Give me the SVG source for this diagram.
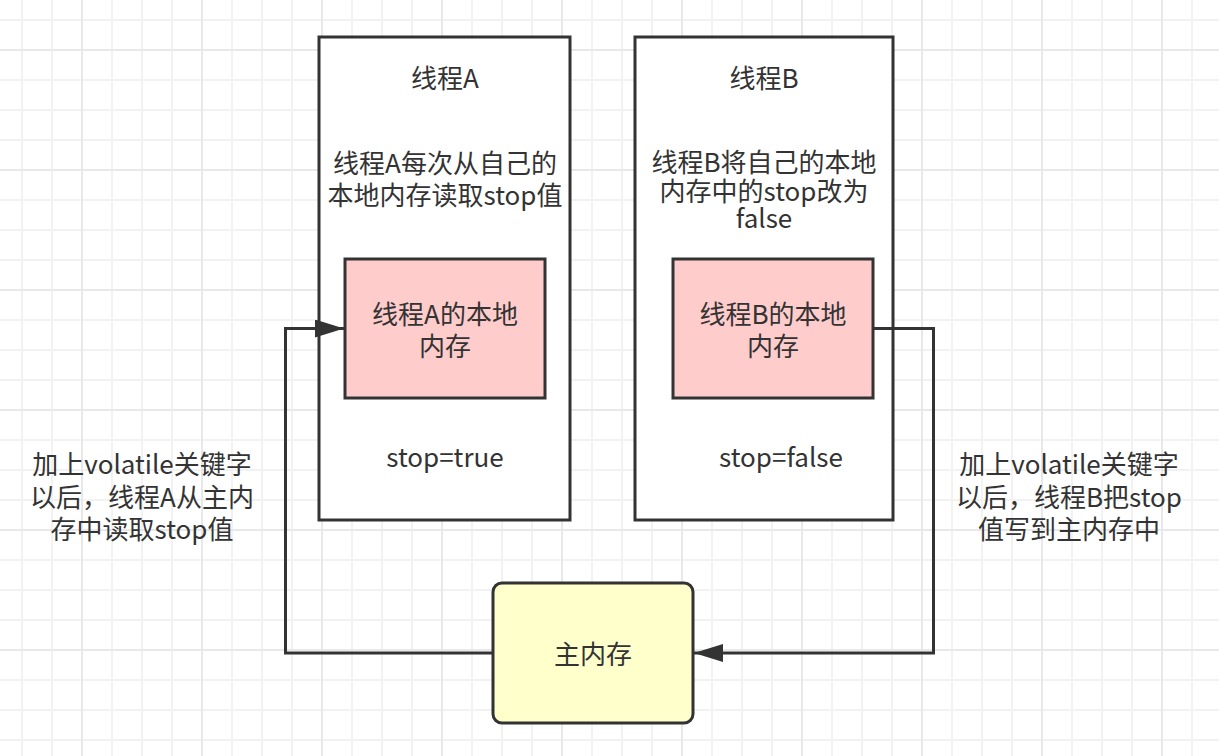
<svg xmlns="http://www.w3.org/2000/svg" width="1219" height="756" viewBox="0 0 1219 756">
<defs>
<pattern id="minor" patternUnits="userSpaceOnUse" x="21" y="19" width="30" height="30">
<path d="M0 1H30M1 0V30" stroke="#f2f2f2" stroke-width="2" fill="none"/>
</pattern>
<pattern id="major" patternUnits="userSpaceOnUse" x="81" y="49" width="120" height="120">
<path d="M0 1H120M1 0V120" stroke="#e8e8e8" stroke-width="2" fill="none"/>
</pattern>
<marker id="arr" viewBox="0 0 30 18" refX="29" refY="9" markerWidth="30" markerHeight="18" markerUnits="userSpaceOnUse" orient="auto">
<path d="M0 0L29 9L0 18z" fill="#333"/>
</marker>
</defs>
<style>
text{font-family:"Noto Sans CJK SC","Noto Sans",sans-serif;font-size:26px;fill:#333;text-anchor:middle}
.box{fill:#fff;stroke:#333;stroke-width:3}
.pink{fill:#ffcccc;stroke:#333;stroke-width:3}
.yellow{fill:#ffffcc;stroke:#333;stroke-width:3}
.edge{fill:none;stroke:#333;stroke-width:3}
</style>
<rect width="1219" height="756" fill="#fff"/>
<rect width="1219" height="756" fill="url(#minor)"/>
<rect width="1219" height="756" fill="url(#major)"/>

<g id="threadA">
<rect class="box" x="319" y="37" width="251" height="483"/>
<text x="445" y="88">线程A</text>
<text x="445" y="173">线程A每次从自己的<tspan x="445" y="205">本地内存读取stop值</tspan></text>
<text x="445" y="467">stop=true</text>
</g>
<g id="threadB">
<rect class="box" x="635" y="37" width="258" height="483"/>
<text x="764" y="88">线程B</text>
<text x="764" y="172">线程B将自己的本地<tspan x="764" y="201">内存中的stop改为</tspan><tspan x="764" y="228">false</tspan></text>
<text x="781" y="467">stop=false</text>
</g>
<g id="localA">
<rect class="pink" x="345" y="259" width="200" height="139"/>
<text x="445" y="324">线程A的本地<tspan x="445" y="356">内存</tspan></text>
</g>
<g id="localB">
<rect class="pink" x="673" y="259" width="200" height="139"/>
<text x="773" y="324">线程B的本地<tspan x="773" y="356">内存</tspan></text>
</g>
<g id="mainMem">
<rect class="yellow" x="493" y="583" width="200" height="140" rx="9"/>
<text x="593" y="664">主内存</text>
</g>
<g id="labelLeft">
<text x="142" y="474">加上volatile关键字<tspan x="142" y="507">以后，线程A从主内</tspan><tspan x="142" y="539">存中读取stop值</tspan></text>
</g>
<g id="labelRight">
<text x="1069" y="474">加上volatile关键字<tspan x="1069" y="507">以后，线程B把stop</tspan><tspan x="1069" y="539">值写到主内存中</tspan></text>
</g>
<g id="connectors">
<path class="edge" d="M493 653H285.5V328.5H344" marker-end="url(#arr)"/>
<path class="edge" d="M873 328.5H933.5V653H694" marker-end="url(#arr)"/>
</g>
</svg>
